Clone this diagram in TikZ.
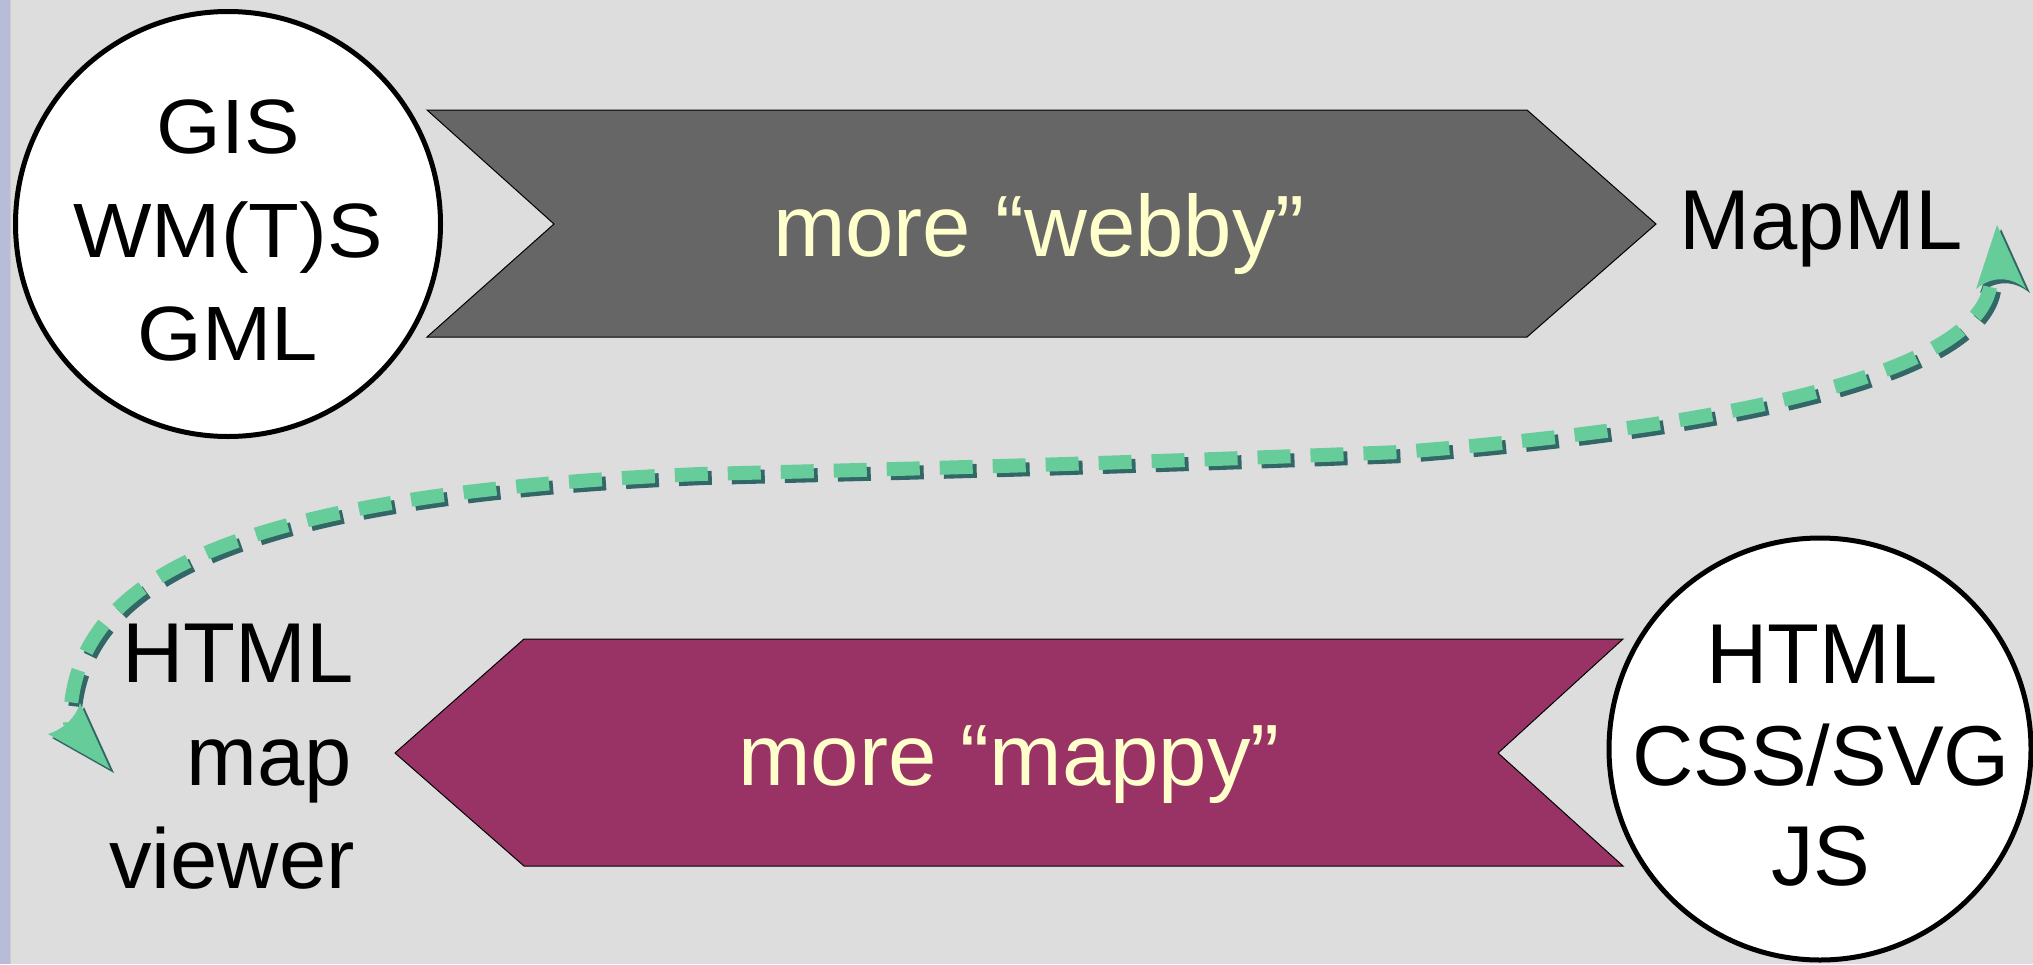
\documentclass[tikz,border=0pt]{standalone}
\usepackage{fontspec}
\setmainfont{Liberation Sans}
\newfontfamily\widefont[FakeStretch=1.08]{Liberation Sans}
\definecolor{bg}{HTML}{DDDDDD}
\definecolor{strip}{HTML}{B8BCD8}
\definecolor{stripedge}{HTML}{CCCCCC}
\definecolor{webgray}{HTML}{666666}
\definecolor{mapplum}{HTML}{993366}
\definecolor{txtyellow}{HTML}{FFFFCC}
\definecolor{flowgreen}{HTML}{66CC99}
\definecolor{flowshadow}{HTML}{336666}
\newcommand\flowcurve{(flowA) .. controls (1975,370) and (1750,425) .. (1400,452)
  .. controls (1150,462) and (950,468) .. (700,474)
  .. controls (200,495) and (70,590) .. (flowB)}
\newcommand\flowheads{%
  \fill (1997,225) -- (1976,289) .. controls (1992,276) and (2010,276) .. (2026,289) -- cycle;
  \fill (110,769) -- (48,734) .. controls (62,730) and (76,718) .. (80,703) -- cycle;}
\begin{document}
\begin{tikzpicture}[x=1pt,y=-1pt,
  lbl/.style={inner sep=0pt, anchor=base, font=\fontsize{85}{100}\selectfont},
  clbl/.style={inner sep=0pt, anchor=base, font=\widefont\fontsize{77}{100}\selectfont},
  band/.style={text=txtyellow, inner sep=0pt, anchor=base, font=\fontsize{87}{100}\selectfont},
  ring/.style={circle, draw=black, line width=5pt, fill=white, inner sep=0pt},
  chev/.style={draw=black, line width=1pt},
  flow/.style={line width=14pt, dash pattern=on 33pt off 20pt}]
\useasboundingbox (0,0) rectangle (2033,964);
\fill[bg] (0,0) rectangle (2033,964);
\fill[strip] (0,0) rectangle (10,964);
\draw[stripedge, line width=1.2pt] (10.6,0) -- (10.6,964);

% chevrons
\draw[chev, fill=webgray] (427,110) -- (1527,110) -- (1656,224) -- (1527,337) -- (427,337) -- (554,224) -- cycle;
\draw[chev, fill=mapplum] (524,639) -- (1623,639) -- (1498,753) -- (1623,866) -- (524,866) -- (395,753) -- cycle;
\node[band] (webby) at (1039,256) {more “webby”};
\node[band] (mappy) at (1009,785) {more “mappy”};

% circles
\node[ring, minimum size=425pt] (gisring) at (228,224) {};
\node[clbl] (gis) at (228,153) {GIS};
\node[clbl] (wmts) at (228,257) {WM(T)S};
\node[clbl] (gml) at (228,360) {GML};

\node[ring, minimum size=422pt] (webring) at (1820,749) {};
\node[lbl] (html2) at (1822,683) {HTML};
\node[lbl] (css) at (1821,785) {CSS/SVG};
\node[lbl] (js) at (1821,885) {JS};

% labels
\node[lbl] (mapml) at (1821,249) {MapML};
\node[lbl, anchor=base east] (html1) at (354,682) {HTML};
\node[lbl, anchor=base east] (map) at (352,785) {map};
\node[lbl, anchor=base east] (viewer) at (355,888) {viewer};

% dashed connector
\coordinate (flowA) at ([shift={(169,38)}]mapml.base);
\coordinate (flowB) at ([shift={(-284,43)}]html1.base east);
\begin{scope}[transform canvas={xshift=4pt,yshift=-4pt}]
  \draw[flow, flowshadow] \flowcurve;
  \begin{scope}[fill=flowshadow]\flowheads\end{scope}
\end{scope}
\draw[flow, flowgreen] \flowcurve;
\begin{scope}[fill=flowgreen]\flowheads\end{scope}
\end{tikzpicture}
\end{document}
